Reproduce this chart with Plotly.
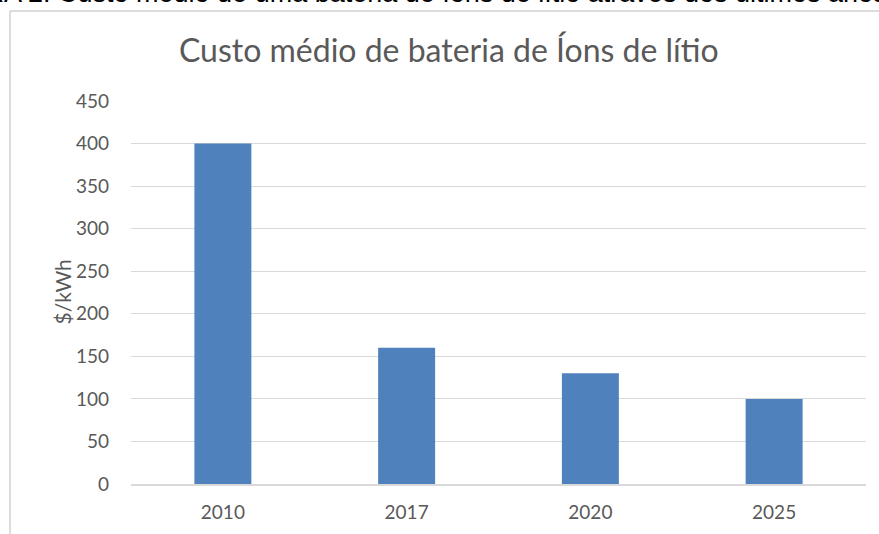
import plotly.graph_objects as go

# Average lithium-ion battery pack cost by year
years = ["2010", "2017", "2020", "2025"]
cost_usd_kwh = [400, 160, 130, 100]
y_ticks = [0, 50, 100, 150, 200, 250, 300, 350, 400, 450]

caption = "FIGURA 2: Custo médio de uma bateria de íons de lítio através dos últimos anos"
chart_title = "Custo médio de bateria de Íons de lítio"
y_title = "$/kWh"

W, H = 879, 534
L, R, T, B = 131, 13, 101, 50
pw, ph = W - L - R, H - T - B


def px_x(x):
    return (x - L) / pw


def px_y(y):
    return 1 - (y - T) / ph


gray_text = "#595959"
grid = "#D9D9D9"
font_main = "Lato, Calibri, 'Open Sans', sans-serif"

fig = go.Figure(
    go.Bar(
        x=years,
        y=cost_usd_kwh,
        marker=dict(color="#4F81BD", line=dict(width=0)),
        hoverinfo="x+y",
    )
)

fig.update_layout(
    width=W,
    height=H,
    margin=dict(l=L, r=R, t=T, b=B, pad=0, autoexpand=False),
    paper_bgcolor="white",
    plot_bgcolor="white",
    bargap=0.69,
    showlegend=False,
    font=dict(family=font_main, color=gray_text, size=19),
)

fig.update_xaxes(
    type="category",
    automargin=False,
    showgrid=False,
    showline=True,
    linecolor=grid,
    linewidth=1.5,
    ticks="",
    ticklabelstandoff=10,
    tickfont=dict(size=19, color=gray_text),
)

fig.update_yaxes(
    range=[0, 450],
    automargin=False,
    tickvals=y_ticks,
    showgrid=True,
    gridcolor=grid,
    gridwidth=1.3,
    zeroline=False,
    showline=False,
    ticks="",
    ticklabelstandoff=21,
    tickfont=dict(size=19, color=gray_text),
)

# Axis title for the cost axis
fig.add_annotation(
    text=y_title, xref="paper", yref="paper",
    x=px_x(62), y=0.5, xanchor="center", yanchor="middle",
    textangle=-90, showarrow=False,
    font=dict(size=21, color=gray_text, family=font_main),
)

# Chart-area frame (left and top edges)
fig.add_shape(
    type="line", xref="paper", yref="paper",
    x0=px_x(10), x1=px_x(10), y0=px_y(11), y1=px_y(545),
    line=dict(color="#D0D0D0", width=1.5),
)
fig.add_shape(
    type="line", xref="paper", yref="paper",
    x0=px_x(10), x1=px_x(890), y0=px_y(11), y1=px_y(11),
    line=dict(color="#D0D0D0", width=1.5),
)

# Chart title
fig.add_annotation(
    text=chart_title, xref="paper", yref="paper",
    x=px_x(449), y=px_y(50), xanchor="center", yanchor="middle",
    showarrow=False,
    font=dict(size=32, color=gray_text, family=font_main),
)

# Document caption running above the chart
fig.add_annotation(
    text=caption, xref="paper", yref="paper",
    x=px_x(-82), y=px_y(-7.5), xanchor="left", yanchor="middle",
    showarrow=False,
    font=dict(size=27, color="black", family="'Liberation Sans', Arial, sans-serif"),
)

fig.write_html("out.html")
